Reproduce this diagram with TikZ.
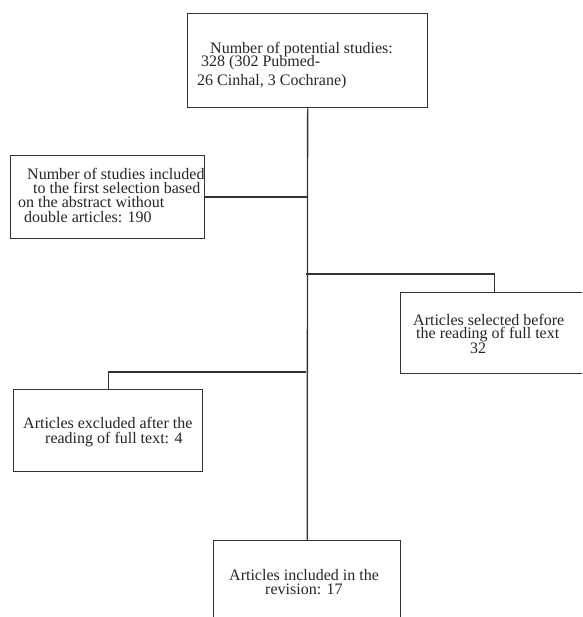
\documentclass[tikz,border=0pt]{standalone}
\usepackage{fontspec}
\setmainfont{Liberation Serif}
\begin{document}
\begin{tikzpicture}[x=1pt,y=-1pt,
  box/.style={draw=black!80, line width=1.3pt, inner sep=0pt, anchor=north west},
  ln/.style={draw=black!80, line width=1.3pt},
  txt/.style={anchor=base west, inner sep=0pt, text height=9pt, text depth=1.5pt, font=\fontsize{16}{16}\selectfont, text=black!85}]
\clip (0,0) rectangle (582,617);
\fill[white] (0,0) rectangle (582,617);
% boxes
\node[box, minimum width=240pt, minimum height=94pt] (b1) at (187,13) {};
\node[box, minimum width=194pt, minimum height=83pt] (b2) at (10,155) {};
\node[box, minimum width=188pt, minimum height=81pt] (b3) at (400,292) {};
\node[box, minimum width=189pt, minimum height=82pt] (b4) at (13,389) {};
\node[box, minimum width=187pt, minimum height=90pt] (b5) at (213,540) {};
% junctions
\coordinate (j3) at (306,274);
\coordinate (j4) at (306,372);
% connectors
\draw[ln] (b1.south) -- (b5.north);
\draw[ln] (b2.east) -- (b2.east -| b1.south);
\draw[ln] (j3) -- (j3 -| b3.north) -- (b3.north);
\draw[ln] (j4) -- (j4 -| b4.north) -- (b4.north);
% texts
\node[txt] (t1a) at (210,54) {Number of potential studies:};
\node[txt] (t1b) at (201,67) {328 (302 Pubmed-};
\node[txt] (t1c) at (197,86) {26 Cinhal, 3 Cochrane)};
\node[txt] (t2a) at (27,180) {Number of studies included};
\node[txt] (t2b) at (33,194) {to the first selection based};
\node[txt] (t2c) at (18,208) {on the abstract without};
\node[txt] (t2d) at (24,223) {double articles: 190};
\node[txt] (t3a) at (413,325) {Articles selected before};
\node[txt] (t3b) at (416,338) {the reading of full text};
\node[txt] (t3c) at (470,353) {32};
\node[txt] (t4a) at (23,428) {Articles excluded after the};
\node[txt] (t4b) at (45,443) {reading of full text: 4};
\node[txt] (t5a) at (229,580) {Articles included in the};
\node[txt] (t5b) at (265,594) {revision: 17};
\end{tikzpicture}
\end{document}
